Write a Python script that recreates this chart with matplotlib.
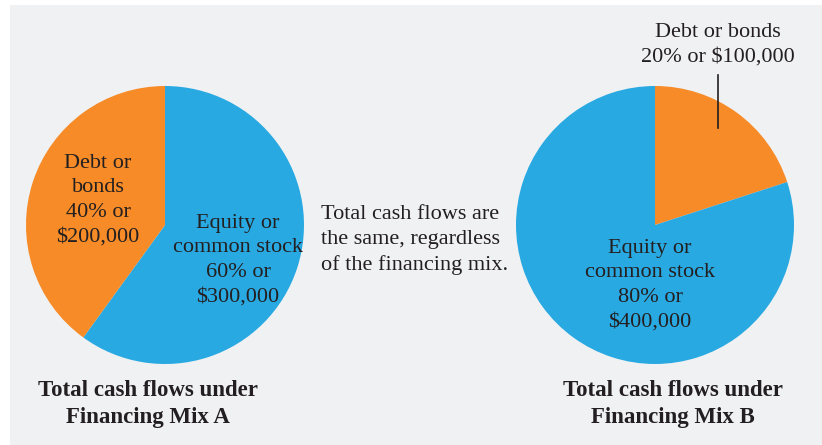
import matplotlib
matplotlib.use("Agg")
import matplotlib.pyplot as plt
from matplotlib.patches import Rectangle

#### Data ####

labels = ["Equity or common stock", "Debt or bonds"]
mix_a = [60, 40]          # equity, debt (%)
mix_b = [20, 80]          # debt, equity (%)
amounts_a = ["$300,000", "$200,000"]
amounts_b = ["$100,000", "$400,000"]
titles = ["Total cash flows under\nFinancing Mix A",
          "Total cash flows under\nFinancing Mix B"]
note = "Total cash flows are\nthe same, regardless\nof the financing mix."

#### Style ####

blue = "#29a9e1"
orange = "#f68b28"
ink = "#231f20"
W, H = 822, 445
plt.rcParams['font.family'] = ['Liberation Serif', 'DejaVu Serif']

fig = plt.figure(figsize=(W / 100, H / 100), dpi=100)
fig.patch.set_facecolor("white")
ax = fig.add_axes([0, 0, 1, 1])

def py(y):
    # pixel row -> data y
    return H - y

ax.add_patch(Rectangle((10, -10), W + 10, H + 5, facecolor="#f0f1f3",
                       edgecolor="none", zorder=0))

r = 139
ax.pie(mix_a, colors=[blue, orange], startangle=90, counterclock=False,
       center=(165, py(225)), radius=r, wedgeprops=dict(linewidth=0))
ax.pie(mix_b, colors=[orange, blue], startangle=90, counterclock=False,
       center=(655, py(225)), radius=r, wedgeprops=dict(linewidth=0))

ax.set_xlim(0, W)
ax.set_ylim(0, H)
ax.set_aspect("equal")
ax.axis("off")

fs = 16
ls = 1.4
kw = dict(ha="center", va="center", fontsize=fs, color=ink, linespacing=ls)

ax.text(98, py(200), "Debt or\nbonds\n%d%% or\n%s" % (mix_a[1], amounts_a[1]), **kw)
ax.text(238, py(260), "Equity or\ncommon stock\n%d%% or\n%s" % (mix_a[0], amounts_a[0]), **kw)
ax.text(321, py(240), note, ha="left", va="center", fontsize=fs, color=ink,
        linespacing=ls)
ax.text(718, py(45), "Debt or bonds\n%d%% or %s" % (mix_b[0], amounts_b[0]), **kw)
ax.plot([718, 718], [py(75), py(128)], color=ink, lw=1.2)
ax.text(650, py(285), "Equity or\ncommon stock\n%d%% or\n%s" % (mix_b[1], amounts_b[1]), **kw)

for x, t in zip([148, 673], titles):
    ax.text(x, py(404), t, ha="center", va="center", fontsize=16.5,
            fontweight="bold", color=ink, linespacing=1.35)

fig.savefig("out.png", dpi=100)
